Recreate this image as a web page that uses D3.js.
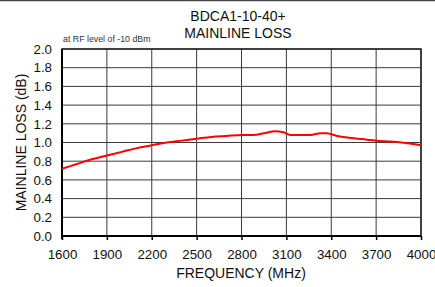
<!DOCTYPE html>
<html>
<head>
<meta charset="utf-8">
<script src="https://cdn.jsdelivr.net/npm/d3@7"></script>
<style>
  body { margin: 0; background: #fff; }
  text { font-family: "Liberation Sans", Arial, sans-serif; fill: #111; }
</style>
</head>
<body>
<div id="chart"></div>
<script>
var width = 435;
var height = 287;
var plotLeft = 62, plotRight = 421, plotTop = 49, plotBottom = 236;

// chart data
var freq = [1600, 1700, 1800, 1900, 2000, 2100, 2200, 2300, 2400, 2500, 2600, 2700, 2800, 2880, 2950, 3025, 3080, 3130, 3260, 3330, 3370, 3440, 3520, 3640, 3700, 3800, 3870, 4000];
var loss = [0.72, 0.77, 0.82, 0.86, 0.90, 0.94, 0.97, 1.00, 1.02, 1.04, 1.06, 1.07, 1.08, 1.08, 1.10, 1.12, 1.11, 1.08, 1.08, 1.10, 1.10, 1.07, 1.05, 1.03, 1.02, 1.01, 1.00, 0.97];
var xTicks = [1600, 1900, 2200, 2500, 2800, 3100, 3400, 3700, 4000];
var yTicks = [0, 0.2, 0.4, 0.6, 0.8, 1.0, 1.2, 1.4, 1.6, 1.8, 2.0];

var svg = d3.select("#chart").append("svg")
      .attr("width", width)
      .attr("height", height)

// page rule along the top
svg.append("line")
      .attr("x1", 0).attr("x2", width)
      .attr("y1", 0.5).attr("y2", 0.5)
      .style("stroke", "#444")
      .style("stroke-width", 1.5)

var xScale = d3.scaleLinear().domain([1600, 4000]).range([plotLeft, plotRight])
var yScale = d3.scaleLinear().domain([0, 2]).range([plotBottom, plotTop])

// grid
svg.append("g").selectAll("line")
      .data(xTicks)
      .enter().append("line")
            .attr("x1", d => xScale(d)).attr("x2", d => xScale(d))
            .attr("y1", plotTop).attr("y2", plotBottom)
            .style("stroke", "#3a3a3a")
            .style("stroke-width", 1)
svg.append("g").selectAll("line")
      .data(yTicks)
      .enter().append("line")
            .attr("x1", plotLeft).attr("x2", plotRight)
            .attr("y1", d => yScale(d)).attr("y2", d => yScale(d))
            .style("stroke", "#3a3a3a")
            .style("stroke-width", 1)

// frame
svg.append("rect")
      .attr("x", plotLeft).attr("y", plotTop)
      .attr("width", plotRight - plotLeft).attr("height", plotBottom - plotTop)
      .style("fill", "none")
      .style("stroke", "#222")
      .style("stroke-width", 1.5)

// axes
var xAxis = d3.axisBottom(xScale)
      .tickValues(xTicks)
      .tickSize(4)
      .tickPadding(10)
      .tickFormat(d3.format("d"))
var yAxis = d3.axisLeft(yScale)
      .tickValues(yTicks)
      .tickSize(0)
      .tickPadding(10)
      .tickFormat(d3.format(".1f"))

var xg = svg.append("g")
      .attr("transform", "translate(0," + plotBottom + ")")
      .call(xAxis)
var yg = svg.append("g")
      .attr("transform", "translate(" + plotLeft + ",0)")
      .call(yAxis)
;[xg, yg].forEach(function(g) {
      g.select(".domain").style("stroke", "#000").style("stroke-width", 2)
      g.selectAll(".tick line").style("stroke", "#000").style("stroke-width", 1.5)
      g.selectAll(".tick text")
            .style("font-family", "'Liberation Sans', Arial, sans-serif")
            .style("font-size", "13.3px")
            .style("fill", "#111")
})
xg.select(".domain").attr("d", "M" + plotLeft + ",0H" + plotRight)
yg.select(".domain").attr("d", "M0," + (plotBottom + 3) + "V" + plotTop)

// curve
var line = d3.line()
      .x((d, i) => xScale(freq[i]))
      .y(d => yScale(d))
      .curve(d3.curveMonotoneX)
svg.append("path")
      .attr("d", line(loss))
      .style("fill", "none")
      .style("stroke", "#ff0000")
      .style("stroke-width", 2)

// titles
svg.append("text")
      .attr("x", 238).attr("y", 21)
      .style("text-anchor", "middle")
      .style("font-size", "14px")
      .text("BDCA1-10-40+")
svg.append("text")
      .attr("x", 238).attr("y", 38)
      .style("text-anchor", "middle")
      .style("font-size", "14px")
      .text("MAINLINE LOSS")
svg.append("text")
      .attr("x", 63).attr("y", 42)
      .style("font-size", "8.8px")
      .style("fill", "#333")
      .text("at RF level of -10 dBm")
svg.append("text")
      .attr("x", 241).attr("y", 278)
      .style("text-anchor", "middle")
      .style("font-size", "14px")
      .text("FREQUENCY (MHz)")
svg.append("text")
      .attr("transform", "rotate(-90)")
      .attr("x", -(plotTop + plotBottom) / 2).attr("y", 26)
      .style("text-anchor", "middle")
      .style("font-size", "14px")
      .text("MAINLINE LOSS (dB)")
</script>
</body>
</html>
